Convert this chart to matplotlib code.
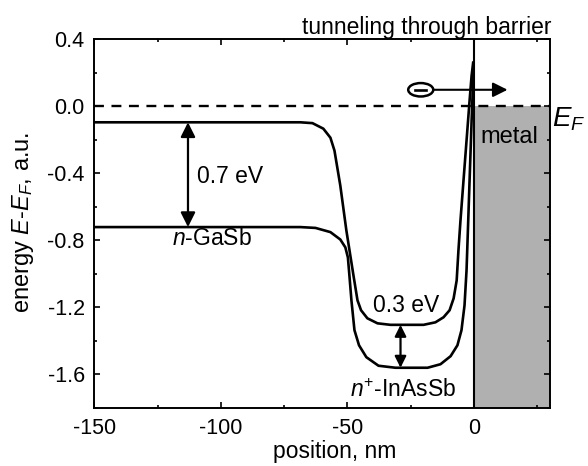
import matplotlib
matplotlib.use("Agg")
import matplotlib.pyplot as plt
from matplotlib.patches import Ellipse, Rectangle
from matplotlib.ticker import MultipleLocator

plt.rcParams['font.family'] = ['Liberation Sans', 'DejaVu Sans']
plt.rcParams['mathtext.fontset'] = 'custom'
plt.rcParams['mathtext.rm'] = 'Liberation Sans'
plt.rcParams['mathtext.it'] = 'Liberation Sans:italic'
plt.rcParams['axes.unicode_minus'] = False

# ---- data ----
x_upper = [-150, -68.6, -63.8, -59.5, -56.7, -55.1, -52.8, -50.4, -47.6, -46.0, -44.6,
           -42.1, -38.1, -33.0, -19.9, -15.2, -12.0, -9.6, -8.0, -6.8, -6.1, -5.3,
           -4.1, -2.9, -1.7, -0.9, -0.3]
y_upper = [-0.096, -0.096, -0.101, -0.134, -0.188, -0.265, -0.473, -0.741, -1.009,
           -1.158, -1.217, -1.265, -1.295, -1.304, -1.304, -1.289, -1.259, -1.217,
           -1.146, -1.039, -0.860, -0.682, -0.443, -0.205, 0.033, 0.182, 0.259]

x_lower = [-150, -68.6, -62.6, -56.7, -52.8, -50.8, -49.8, -49.2, -48.4, -47.2, -45.4,
           -42.5, -37.7, -31.0, -18.3, -13.2, -9.2, -6.5, -4.9, -3.7, -2.9, -2.5,
           -1.7, -0.9, -0.3, -0.1]
y_lower = [-0.721, -0.721, -0.726, -0.751, -0.795, -0.842, -0.902, -1.009, -1.158,
           -1.336, -1.426, -1.497, -1.548, -1.560, -1.560, -1.539, -1.491, -1.426,
           -1.336, -1.188, -0.979, -0.801, -0.443, -0.086, 0.152, 0.259]

fermi_level = 0.0
metal_x = (0, 30)
gap_gasb = (-113, -0.096, -0.721)      # x, top, bottom
gap_inassb = (-29, -1.304, -1.560)
electron = (-21, 0.098)
electron_arrow_end = 13.3

x_ticks = [-150, -100, -50, 0]
x_tick_labels = ['-150', '-100', '-50', '0']
y_ticks = [0.4, 0.0, -0.4, -0.8, -1.2, -1.6]
y_tick_labels = ['0.4', '0.0', '-0.4', '-0.8', '-1.2', '-1.6']

# ---- figure ----
fig = plt.figure(figsize=(5.88, 4.66), dpi=100)
ax = fig.add_axes([0.1605, 0.1245, 0.7745, 0.7915])
ax.set_xlim(-150, 30)
ax.set_ylim(-1.8, 0.4)

# metal region
ax.add_patch(Rectangle((metal_x[0], -1.8), metal_x[1] - metal_x[0], 1.8 + fermi_level,
                       facecolor='#b0b0b0', edgecolor='none', zorder=1))
ax.axvline(0, color='black', lw=1.5, zorder=3)

# Fermi level
ax.axhline(fermi_level, color='black', lw=1.7, ls=(0, (4.2, 3.2)), zorder=2)

# band edges
ax.plot(x_upper, y_upper, color='black', lw=1.9, zorder=4, solid_joinstyle='round')
ax.plot(x_lower, y_lower, color='black', lw=1.9, zorder=4, solid_joinstyle='round')

# gap arrows
ap = dict(arrowstyle='<|-|>', color='black', lw=1.6, mutation_scale=22,
          shrinkA=0, shrinkB=0)
ax.annotate('', xy=(gap_gasb[0], gap_gasb[1]), xytext=(gap_gasb[0], gap_gasb[2]),
            arrowprops=ap, zorder=5)
ap2 = dict(arrowstyle='<|-|>', color='black', lw=1.6, mutation_scale=17,
           shrinkA=0, shrinkB=0)
ax.annotate('', xy=(gap_inassb[0], gap_inassb[1]), xytext=(gap_inassb[0], gap_inassb[2]),
            arrowprops=ap2, zorder=5)

# electron
ax.add_patch(Ellipse(electron, width=9.9, height=0.08, facecolor='white',
                     edgecolor='black', lw=1.8, zorder=6))
ax.plot([electron[0] - 2.2, electron[0] + 2.2], [electron[1], electron[1]],
        color='black', lw=1.9, zorder=7)
ax.annotate('', xy=(electron_arrow_end, electron[1]), xytext=(electron[0] + 4.95, electron[1]),
            arrowprops=dict(arrowstyle='-|>', color='black', lw=1.5, mutation_scale=22,
                            shrinkA=0, shrinkB=0), zorder=6)

# labels
fs = 16.5
ax.text(-109.4, -0.46, '0.7 eV', fontsize=fs, ha='left', va='baseline')
ax.text(-103.4, -0.83, r'$n$-GaSb', fontsize=fs, ha='center', va='baseline')
ax.text(-26.6, -1.229, '0.3 eV', fontsize=fs, ha='center', va='baseline')
ax.text(-27.8, -1.735, r'$n^{+}$-InAsSb', fontsize=fs, ha='center', va='baseline')
ax.text(2.6, -0.217, 'metal', fontsize=17, ha='left', va='baseline')
ax.text(30.75, -0.12, r'$E_F$', fontsize=20, ha='left', va='baseline', clip_on=False)
ax.text(30.5, 0.43, 'tunneling through barrier', fontsize=16.5, ha='right',
        va='baseline', clip_on=False)

# axes styling
ax.set_xticks(x_ticks)
ax.set_xticklabels(x_tick_labels)
ax.set_yticks(y_ticks)
ax.set_yticklabels(y_tick_labels)
ax.xaxis.set_minor_locator(MultipleLocator(25))
ax.yaxis.set_minor_locator(MultipleLocator(0.2))
ax.tick_params(which='both', direction='in', top=True, right=True, width=1.2,
               labelsize=15.5)
ax.tick_params(which='major', length=4.5, pad=7)
ax.tick_params(which='minor', length=2.5)
for s in ax.spines.values():
    s.set_linewidth(1.4)

ax.set_xlabel('position, nm', fontsize=16.5, labelpad=0)
ax.xaxis.set_label_coords(0.528, -0.087)
ax.set_ylabel(r'energy $E$-$E_F$, a.u.', fontsize=17, labelpad=0)
ax.yaxis.set_label_coords(-0.128, 0.504)

fig.savefig('out.png', dpi=100)
